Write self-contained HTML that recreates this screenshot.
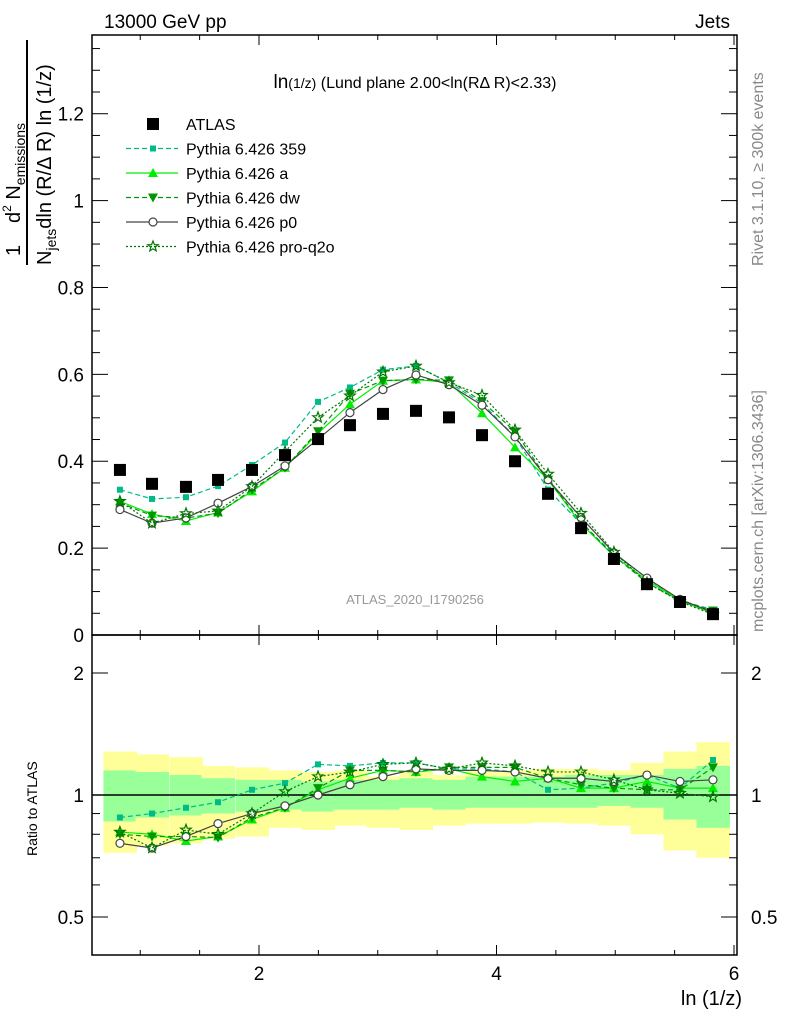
<!DOCTYPE html>
<html><head><meta charset="utf-8"><style>
body{margin:0;background:#fff}
svg{font-family:"Liberation Sans",sans-serif}
</style></head><body>
<svg id="c" width="786" height="1024" xmlns="http://www.w3.org/2000/svg">
<g id="bands"></g>
<g id="axes"></g>
<g id="series"></g>
<text x="104" y="28" font-size="19">13000 GeV pp</text>
<text x="730" y="28" font-size="19" text-anchor="end">Jets</text>
<text x="415" y="88" font-size="16" text-anchor="middle"><tspan font-size="19">ln</tspan><tspan font-size="14">(1/z)</tspan> (Lund plane 2.00&lt;ln(R<tspan>Δ</tspan> R)&lt;2.33)</text>
<text x="415" y="604" font-size="13" fill="#999" text-anchor="middle">ATLAS_2020_I1790256</text>
<text transform="translate(763,266) rotate(-90)" font-size="16" fill="#888">Rivet 3.1.10, ≥ 300k events</text>
<text transform="translate(763,632) rotate(-90)" font-size="16" fill="#888">mcplots.cern.ch [arXiv:1306.3436]</text>
<text x="742" y="1005" font-size="20" text-anchor="end">ln (1/z)</text>
<text transform="translate(37,856) rotate(-90)" font-size="14">Ratio to ATLAS</text>
<g transform="translate(0,268) rotate(-90)">
<text x="12" y="20" font-size="20">1</text>
<text x="45" y="20" font-size="20">d<tspan font-size="12" dy="-9">2</tspan><tspan dy="9"> N</tspan><tspan font-size="14" dy="5">emissions</tspan></text>
<line x1="3" y1="27" x2="228" y2="27" stroke="#000" stroke-width="2"/>
<text x="3" y="51" font-size="20">N<tspan font-size="14" dy="5">jets</tspan><tspan dy="-5">dln (R/Δ R) ln (1/z)</tspan></text>
</g>
<g id="legend"></g>
</svg>
<script>
const xCenters=[0.829,1.099,1.385,1.655,1.941,2.219,2.497,2.766,3.044,3.322,3.6,3.878,4.156,4.434,4.712,4.989,5.267,5.545,5.823];
const atlas=[0.38,0.348,0.341,0.357,0.38,0.414,0.451,0.483,0.509,0.516,0.501,0.46,0.40,0.325,0.246,0.175,0.117,0.076,0.048];
const r359=[0.88,0.90,0.93,0.96,1.03,1.07,1.19,1.18,1.20,1.20,1.16,1.16,1.14,1.03,1.04,1.07,1.12,1.04,1.22];
const rA=[0.81,0.80,0.77,0.79,0.87,0.93,1.03,1.10,1.15,1.14,1.16,1.11,1.08,1.10,1.04,1.04,1.08,1.04,1.04];
const rDw=[0.80,0.79,0.79,0.785,0.88,0.93,1.04,1.15,1.15,1.14,1.17,1.17,1.17,1.10,1.06,1.04,1.03,1.03,1.17];
const rP0=[0.76,0.74,0.79,0.85,0.90,0.94,1.0,1.06,1.11,1.16,1.15,1.15,1.14,1.10,1.10,1.08,1.12,1.08,1.09];
const rQ2o=[0.81,0.74,0.82,0.80,0.90,1.02,1.11,1.14,1.19,1.20,1.16,1.20,1.18,1.14,1.14,1.09,1.03,1.01,0.99];
const yelHi=[1.28,1.26,1.24,1.18,1.17,1.15,1.14,1.15,1.11,1.14,1.12,1.15,1.15,1.16,1.16,1.15,1.20,1.28,1.35];
const yelLo=[0.72,0.75,0.76,0.78,0.79,0.83,0.82,0.84,0.83,0.82,0.84,0.85,0.85,0.855,0.85,0.84,0.80,0.73,0.70];
const grnHi=[1.15,1.14,1.12,1.10,1.09,1.09,1.08,1.09,1.09,1.10,1.09,1.11,1.11,1.11,1.12,1.12,1.12,1.16,1.18];
const grnLo=[0.86,0.88,0.89,0.90,0.91,0.92,0.91,0.92,0.92,0.93,0.92,0.93,0.93,0.93,0.93,0.94,0.93,0.87,0.83];
const yTicks=[0,0.2,0.4,0.6,0.8,1,1.2];
const xTickLabels=[2,4,6];
const binHalf=0.139;

const NS="http://www.w3.org/2000/svg";
const X=v=>21.5+v*118.75;
const Y=v=>635-v*434.4;
const R=v=>795-Math.log2(v)*122;
const L=92,Rt=737,T=35,M=635,B=955;
function mk(tag,attrs,parent){const e=document.createElementNS(NS,tag);for(const k in attrs)e.setAttribute(k,attrs[k]);parent.appendChild(e);return e;}
const bands=document.getElementById('bands'),axes=document.getElementById('axes'),ser=document.getElementById('series'),leg=document.getElementById('legend');

xCenters.forEach((x,i)=>{
  const a=mk('rect',{x:X(x-binHalf),y:R(yelHi[i]),width:X(x+binHalf)-X(x-binHalf)+0.5,height:R(yelLo[i])-R(yelHi[i]),fill:'#ffff99'},bands);
  
  
  const g=mk('rect',{x:X(x-binHalf),y:R(grnHi[i]),width:X(x+binHalf)-X(x-binHalf)+0.5,height:R(grnLo[i])-R(grnHi[i]),fill:'#99ff99'},bands);
  
  
});

mk('rect',{x:L,y:T,width:Rt-L,height:M-T,fill:'none',stroke:'#000','stroke-width':1.5},axes);
mk('rect',{x:L,y:M,width:Rt-L,height:B-M,fill:'none',stroke:'#000','stroke-width':1.5},axes);
mk('line',{x1:L,y1:R(1),x2:Rt,y2:R(1),stroke:'#000','stroke-width':1.5},axes);
for(let v=0;v<=1.38;v+=0.05){const yy=Y(v);const maj=Math.abs(v/0.2-Math.round(v/0.2))<1e-6;const len=maj?16:8;
 mk('line',{x1:L,y1:yy,x2:L+len,y2:yy,stroke:'#000'},axes);mk('line',{x1:Rt,y1:yy,x2:Rt-len,y2:yy,stroke:'#000'},axes);}
yTicks.forEach(v=>{const t=mk('text',{x:L-8,y:Y(v)+7,'font-size':19,'text-anchor':'end'},axes);t.textContent=(v===0?'0':String(v));
 
 });
[0.5,0.6,0.7,0.8,0.9,1,2].forEach(v=>{const yy=R(v);const maj=(v===0.5||v===1||v===2);const len=maj?16:8;
 mk('line',{x1:L,y1:yy,x2:L+len,y2:yy,stroke:'#000'},axes);mk('line',{x1:Rt,y1:yy,x2:Rt-len,y2:yy,stroke:'#000'},axes);});
[0.5,1,2].forEach(v=>{[[L-8,'end'],[Rt+14,'start']].forEach(([xx,an])=>{const t=mk('text',{x:xx,y:R(v)+7,'font-size':19,'text-anchor':an},axes);t.textContent=String(v);
 
 });});
for(let v=1;v<=6.01;v+=0.5){const xx=X(v);if(xx<L||xx>Rt+1)continue;const maj=(v%2===0);const len=maj?10:5;
 [[T,1],[M,-1],[M,1],[B,-1]].forEach(([y0,d])=>mk('line',{x1:xx,y1:y0,x2:xx,y2:y0+d*len,stroke:'#000'},axes));}
xTickLabels.forEach(v=>{const t=mk('text',{x:X(v),y:980,'font-size':19,'text-anchor':'middle'},axes);t.textContent=String(v);
 
 });

function marker(type,x,y,col,p){
 if(type==='sq')return mk('rect',{x:x-6,y:y-6,width:12,height:12,fill:'#000'},p);
 if(type==='circ')return mk('circle',{cx:x,cy:y,r:4,fill:'#fff',stroke:col,'stroke-width':1.2},p);
 if(type==='sqs')return mk('rect',{x:x-3,y:y-3,width:6,height:6,fill:col},p);
 if(type==='tu')return mk('polygon',{points:`${x},${y-5} ${x-5},${y+4} ${x+5},${y+4}`,fill:col},p);
 if(type==='td')return mk('polygon',{points:`${x},${y+5} ${x-5},${y-4} ${x+5},${y-4}`,fill:col},p);
 if(type==='star'){let pts=[];for(let k=0;k<10;k++){const rr=k%2?2.3:5.5;const a=-Math.PI/2+k*Math.PI/5;pts.push((x+rr*Math.cos(a)).toFixed(1)+','+(y+rr*Math.sin(a)).toFixed(1));}
  return mk('polygon',{points:pts.join(' '),fill:'none',stroke:col,'stroke-width':1.2},p);}
}
const models=[
 {name:'Pythia 6.426 359',r:r359,col:'#00bb88',dash:'5,3',m:'sqs',id:'pythia-359'},
 {name:'Pythia 6.426 a',r:rA,col:'#00ee00',dash:'',m:'tu',id:'pythia-a'},
 {name:'Pythia 6.426 dw',r:rDw,col:'#009900',dash:'5,3',m:'td',id:'pythia-dw'},
 {name:'Pythia 6.426 p0',r:rP0,col:'#444444',dash:'',m:'circ',id:'pythia-p0'},
 {name:'Pythia 6.426 pro-q2o',r:rQ2o,col:'#007700',dash:'2,2',m:'star',id:'pythia-pro-q2o'}];
models.forEach(md=>{
 const g=mk('g',{},ser);
 
 
 const vals=md.r.map((r,i)=>r*atlas[i]);
 mk('polyline',{points:xCenters.map((x,i)=>X(x)+','+Y(vals[i])).join(' '),fill:'none',stroke:md.col,'stroke-width':1.2,'stroke-dasharray':md.dash},g);
 mk('polyline',{points:xCenters.map((x,i)=>X(x)+','+R(md.r[i])).join(' '),fill:'none',stroke:md.col,'stroke-width':1.2,'stroke-dasharray':md.dash},g);
 xCenters.forEach((x,i)=>{
  const a=marker(md.m,X(x),Y(vals[i]),md.col,g);
  
  
  const b=marker(md.m,X(x),R(md.r[i]),md.col,g);
  
  });
});
const ga=mk('g',{},ser);


xCenters.forEach((x,i)=>{const a=marker('sq',X(x),Y(atlas[i]),'#000',ga);
 
 });

const ly0=124,ldy=24.5;
const e0=marker('sq',153,ly0,'#000',leg);


const t0=mk('text',{x:186,y:ly0+6,'font-size':16},leg);t0.textContent='ATLAS';


models.forEach((md,k)=>{const y=ly0+ldy*(k+1);
 mk('line',{x1:126,y1:y,x2:178,y2:y,stroke:md.col,'stroke-width':1.2,'stroke-dasharray':md.dash},leg);
 const mm=marker(md.m,153,y,md.col,leg);
 
 
 const t=mk('text',{x:186,y:y+6,'font-size':16},leg);t.textContent=md.name;
 
 });
</script>
</body></html>
